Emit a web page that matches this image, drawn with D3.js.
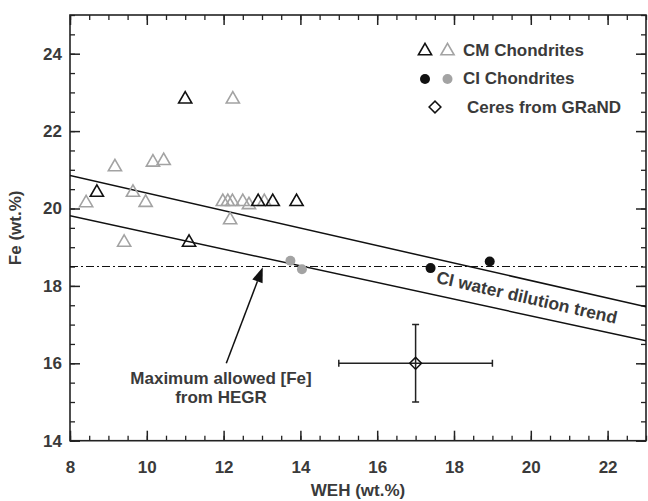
<!DOCTYPE html>
<html><head><meta charset="utf-8">
<script src="https://cdn.jsdelivr.net/npm/d3@7"></script>
<style>body{margin:0;background:#fff}svg{display:block}</style>
</head><body>
<svg id="c" width="648" height="501"></svg>
<script>
// ---- data ----
const cmBlack = [[11.0,22.85],[8.7,20.44],[12.9,20.2],[13.28,20.2],[13.9,20.2],[11.1,19.15]];
const cmGray = [[12.24,22.85],[9.17,21.1],[10.16,21.22],[10.44,21.26],[8.42,20.17],[9.64,20.44],[9.97,20.18],
  [11.98,20.2],[12.11,20.2],[12.23,20.2],[12.5,20.2],[12.66,20.12],[13.06,20.2],[12.17,19.73],[9.41,19.15]];
const ciBlack = [[17.39,18.46],[18.93,18.63]];
const ciGray = [[13.74,18.65],[14.04,18.43]];
const ceres = {x:17, y:16, xErr:2, yErr:1};
const trendUpper = [[8,20.85],[23,17.46]];
const trendLower = [[8,19.81],[23,16.58]];
const hegrLimit = 18.5;
const arrowFrom = [12.07,16.0], arrowTo = [13.02,18.48];
const xTicks = [8,10,12,14,16,18,20,22];
const yTicks = [14,16,18,20,22,24];
const legendLabels = ["CM Chondrites","CI Chondrites","Ceres from GRaND"];

// ---- layout ----
const svg = d3.select("#c");
const L=70, R=646, T=15, B=440.7;
const x = d3.scaleLinear().domain([8,23]).range([L,R]);
const y = d3.scaleLinear().domain([14,25]).range([B,T]);
const textCol="#3a3a3a", font="'Liberation Sans', Arial, sans-serif";
const grayC="#a3a3a3", blackC="#111";
const FS = 17;

const defs = svg.append("defs");
defs.append("clipPath").attr("id","clip").append("rect").attr("x",L).attr("y",T).attr("width",R-L).attr("height",B-T);

function addMinor(axisGen, transform, minor){
  const g = svg.append("g").attr("transform",transform)
    .call(axisGen.tickValues(minor).tickSize(-5).tickFormat(""));
  g.select(".domain").remove();
  g.selectAll("line").attr("stroke","#222").attr("stroke-width",1.3);
}
const xMinor = d3.range(8,23.01,0.5), yMinor = d3.range(14,25.01,0.5);
addMinor(d3.axisBottom(x), `translate(0,${B})`, xMinor);
addMinor(d3.axisTop(x), `translate(0,${T})`, xMinor);
addMinor(d3.axisLeft(y), `translate(${L},0)`, yMinor);
addMinor(d3.axisRight(y), `translate(${R},0)`, yMinor);

const gxB = svg.append("g").attr("transform",`translate(0,${B})`)
  .call(d3.axisBottom(x).tickValues(xTicks).tickSize(-10).tickPadding(20).tickFormat(d3.format("d")));
const gxT = svg.append("g").attr("transform",`translate(0,${T})`)
  .call(d3.axisTop(x).tickValues(xTicks).tickSize(-10).tickFormat(""));
const gyL = svg.append("g").attr("transform",`translate(${L},0)`)
  .call(d3.axisLeft(y).tickValues(yTicks).tickSize(-10).tickPadding(8).tickFormat(d3.format("d")));
const gyR = svg.append("g").attr("transform",`translate(${R},0)`)
  .call(d3.axisRight(y).tickValues(yTicks).tickSize(-10).tickFormat(""));
[gxB,gxT,gyL,gyR].forEach(g=>{
  g.select(".domain").remove();
  g.selectAll("line").attr("stroke","#222").attr("stroke-width",1.5);
  g.selectAll("text").attr("fill",textCol).attr("font-family",font).attr("font-weight","bold").attr("font-size",FS);
});

svg.append("rect").attr("x",L).attr("y",T).attr("width",R-L).attr("height",B-T)
  .attr("fill","none").attr("stroke","#222").attr("stroke-width",1.6);

// axis titles
svg.append("text").attr("x",358).attr("y",496).attr("text-anchor","middle")
  .attr("fill",textCol).attr("font-family",font).attr("font-weight","bold").attr("font-size",FS).text("WEH (wt.%)");
svg.append("text").attr("transform",`translate(21,${(T+B)/2}) rotate(-90)`).attr("text-anchor","middle")
  .attr("fill",textCol).attr("font-family",font).attr("font-weight","bold").attr("font-size",FS).text("Fe (wt.%)");

const plot = svg.append("g").attr("clip-path","url(#clip)");
const line = d3.line().x(d=>x(d[0])).y(d=>y(d[1]));
plot.append("path").attr("d",line(trendUpper)).attr("fill","none").attr("stroke","#111").attr("stroke-width",1.5);
plot.append("path").attr("d",line(trendLower)).attr("fill","none").attr("stroke","#111").attr("stroke-width",1.5);
plot.append("line").attr("x1",x(8)).attr("x2",x(23)).attr("y1",y(hegrLimit)).attr("y2",y(hegrLimit))
  .attr("stroke","#111").attr("stroke-width",1.1).attr("stroke-dasharray","8,3,2,3");

// markers
const tri = d3.symbol().type(d3.symbolTriangle).size(75);
function tris(data,col){
  plot.selectAll(null).data(data).enter().append("path").attr("d",tri)
    .attr("transform",d=>`translate(${x(d[0])},${y(d[1])+1})`)
    .attr("fill","none").attr("stroke",col).attr("stroke-width",1.6);
}
tris(cmGray,grayC); tris(cmBlack,blackC);
plot.selectAll(null).data(ciGray).enter().append("circle").attr("cx",d=>x(d[0])).attr("cy",d=>y(d[1])).attr("r",5).attr("fill",grayC);
plot.selectAll(null).data(ciBlack).enter().append("circle").attr("cx",d=>x(d[0])).attr("cy",d=>y(d[1])).attr("r",5).attr("fill",blackC);

// Ceres with error bars
const eg = plot.append("g").attr("stroke","#222").attr("stroke-width",1.5).attr("fill","none");
eg.append("line").attr("x1",x(ceres.x-ceres.xErr)).attr("x2",x(ceres.x+ceres.xErr)).attr("y1",y(ceres.y)).attr("y2",y(ceres.y));
eg.append("line").attr("x1",x(ceres.x)).attr("x2",x(ceres.x)).attr("y1",y(ceres.y-ceres.yErr)).attr("y2",y(ceres.y+ceres.yErr));
[ceres.x-ceres.xErr, ceres.x+ceres.xErr].forEach(v=>eg.append("line").attr("x1",x(v)).attr("x2",x(v)).attr("y1",y(ceres.y)-3.5).attr("y2",y(ceres.y)+3.5));
[ceres.y-ceres.yErr, ceres.y+ceres.yErr].forEach(v=>eg.append("line").attr("y1",y(v)).attr("y2",y(v)).attr("x1",x(ceres.x)-3.5).attr("x2",x(ceres.x)+3.5));
plot.append("path").attr("d",d3.symbol().type(d3.symbolSquare).size(70))
  .attr("transform",`translate(${x(ceres.x)},${y(ceres.y)}) rotate(45)`)
  .attr("fill","none").attr("stroke","#111").attr("stroke-width",1.5);

// arrow
const ax0=x(arrowFrom[0]), ay0=y(arrowFrom[1]), ax1=x(arrowTo[0]), ay1=y(arrowTo[1]);
const ang = Math.atan2(ay1-ay0, ax1-ax0), hl=15, hw=5.5;
const bx = ax1-hl*Math.cos(ang), by = ay1-hl*Math.sin(ang);
svg.append("line").attr("x1",ax0).attr("y1",ay0).attr("x2",bx).attr("y2",by).attr("stroke","#111").attr("stroke-width",1.5);
svg.append("path").attr("d",`M${ax1},${ay1}L${bx+hw*Math.sin(ang)},${by-hw*Math.cos(ang)}L${bx-hw*Math.sin(ang)},${by+hw*Math.cos(ang)}Z`).attr("fill","#111");

svg.append("text").attr("x",221).attr("y",384).attr("text-anchor","middle").attr("fill",textCol)
  .attr("font-family",font).attr("font-weight","bold").attr("font-size",FS).text("Maximum allowed [Fe]");
svg.append("text").attr("x",221).attr("y",403).attr("text-anchor","middle").attr("fill",textCol)
  .attr("font-family",font).attr("font-weight","bold").attr("font-size",FS).text("from HEGR");

// rotated trend label
const at = (ln,v)=> ln[0][1]+(ln[1][1]-ln[0][1])*(v-ln[0][0])/(ln[1][0]-ln[0][0]);
const tAng = Math.atan2(y(trendUpper[1][1])-y(trendUpper[0][1]), x(trendUpper[1][0])-x(trendUpper[0][0]))*180/Math.PI;
const tx = x(19.9), ty = (y(at(trendUpper,19.9))+y(at(trendLower,19.9)))/2;
svg.append("text").attr("transform",`translate(${tx},${ty}) rotate(${tAng})`).attr("text-anchor","middle").attr("dy","0.35em")
  .attr("fill",textCol).attr("font-family",font).attr("font-weight","bold").attr("font-size",17.5).text("CI water dilution trend");

// legend
const lg = svg.append("g");
lg.append("path").attr("d",tri).attr("transform","translate(425,51)").attr("fill","none").attr("stroke",blackC).attr("stroke-width",1.6);
lg.append("path").attr("d",tri).attr("transform","translate(447.5,51)").attr("fill","none").attr("stroke",grayC).attr("stroke-width",1.6);
lg.append("circle").attr("cx",425).attr("cy",79).attr("r",5).attr("fill",blackC);
lg.append("circle").attr("cx",447.5).attr("cy",79).attr("r",5).attr("fill",grayC);
lg.append("path").attr("d",d3.symbol().type(d3.symbolSquare).size(70)).attr("transform","translate(435,107) rotate(45)")
  .attr("fill","none").attr("stroke","#111").attr("stroke-width",1.5);
const lx=[463,463,467], ly=[50,78,107];
legendLabels.forEach((t,i)=>lg.append("text").attr("x",lx[i]).attr("y",ly[i]).attr("dy","0.35em")
  .attr("fill",textCol).attr("font-family",font).attr("font-weight","bold").attr("font-size",FS).text(t));
</script>
</body></html>
